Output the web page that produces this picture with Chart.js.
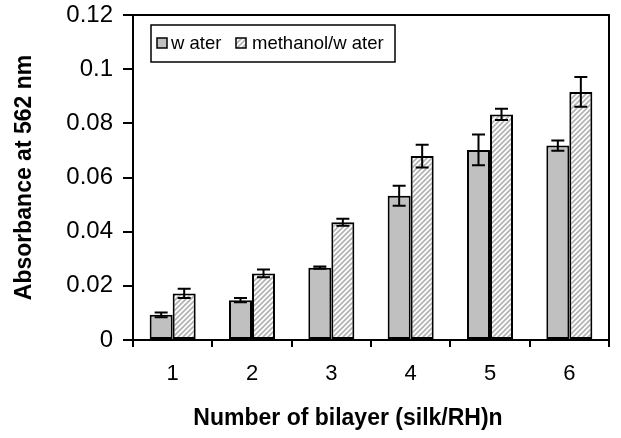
<!DOCTYPE html>
<html>
<head>
<meta charset="utf-8">
<script src="https://cdn.jsdelivr.net/npm/chart.js@4/dist/chart.umd.min.js"></script>
<style>
html,body{margin:0;padding:0;background:#fff;}
#wrap{width:621px;height:438px;}
</style>
</head>
<body>
<div id="wrap"><canvas id="c" width="621" height="438"></canvas></div>
<script>
const categories = ['1', '2', '3', '4', '5', '6'];
const seriesNames = ['w ater', 'methanol/w ater'];
const waterValues = [0.0093, 0.0147, 0.0267, 0.0533, 0.0702, 0.0718];
const waterErrors = [0.0009, 0.0008, 0.0004, 0.0037, 0.0057, 0.0019];
const methanolValues = [0.0172, 0.0246, 0.0435, 0.0679, 0.0833, 0.0916];
const methanolErrors = [0.0017, 0.0014, 0.0013, 0.0042, 0.0021, 0.0055];
const yTickLabels = ['0', '0.02', '0.04', '0.06', '0.08', '0.1', '0.12'];
const xTitle = 'Number of bilayer (silk/RH)n';
const yTitle = 'Absorbance at 562 nm';

function makeHatch() {
  const t = document.createElement('canvas');
  t.width = 5; t.height = 5;
  const g = t.getContext('2d');
  g.fillStyle = '#ffffff';
  g.fillRect(0, 0, 5, 5);
  g.strokeStyle = '#b4b4b4';
  g.lineWidth = 1.8;
  g.beginPath();
  g.moveTo(-1, 6); g.lineTo(6, -1);
  g.moveTo(-1, 1); g.lineTo(1, -1);
  g.moveTo(4, 6); g.lineTo(6, 4);
  g.stroke();
  return document.getElementById('c').getContext('2d').createPattern(t, 'repeat');
}
const hatch = makeHatch();
const waterFill = '#c0c0c0';
const FONT = '"Liberation Sans", Arial, sans-serif';

const errorBars = {
  id: 'errorBars',
  afterDatasetsDraw(chart) {
    const ctx = chart.ctx;
    const y = chart.scales.y;
    const errs = [waterErrors, methanolErrors];
    ctx.save();
    ctx.strokeStyle = '#000';
    ctx.lineWidth = 2;
    chart.data.datasets.forEach((ds, di) => {
      const meta = chart.getDatasetMeta(di);
      meta.data.forEach((bar, i) => {
        const v = ds.data[i], e = errs[di][i];
        const yt = y.getPixelForValue(v + e);
        const yb = y.getPixelForValue(v - e);
        const x = bar.x;
        ctx.beginPath();
        ctx.moveTo(x, yt); ctx.lineTo(x, yb);
        ctx.moveTo(x - 6.5, yt); ctx.lineTo(x + 6.5, yt);
        ctx.moveTo(x - 6.5, yb); ctx.lineTo(x + 6.5, yb);
        ctx.stroke();
      });
    });
    ctx.restore();
  }
};

const frameAndLegend = {
  id: 'frameAndLegend',
  afterDraw(chart) {
    const ctx = chart.ctx;
    const a = chart.chartArea;
    ctx.save();
    ctx.strokeStyle = '#000';
    ctx.lineWidth = 2;
    ctx.beginPath();
    ctx.moveTo(a.left, a.top);
    ctx.lineTo(a.right, a.top);
    ctx.lineTo(a.right, a.bottom);
    ctx.stroke();
    // x axis title
    ctx.fillStyle = '#000';
    ctx.font = 'bold 23px ' + FONT;
    ctx.textAlign = 'center';
    ctx.textBaseline = 'alphabetic';
    ctx.fillText(xTitle, 348, 425);
    // legend
    const lx = 151, ly = 25, lw = 244, lh = 37;
    ctx.fillStyle = '#fff';
    ctx.fillRect(lx, ly, lw, lh);
    ctx.lineWidth = 1.5;
    ctx.strokeRect(lx, ly, lw, lh);
    const items = [
      {sx: 157, tx: 171, fill: waterFill},
      {sx: 236, tx: 252, fill: hatch}
    ];
    ctx.font = '18.5px ' + FONT;
    ctx.textBaseline = 'middle';
    ctx.textAlign = 'left';
    items.forEach((it, i) => {
      ctx.fillStyle = it.fill;
      ctx.fillRect(it.sx, 38, 10, 10);
      ctx.lineWidth = 1.5;
      ctx.strokeStyle = '#000';
      ctx.strokeRect(it.sx, 38, 10, 10);
      ctx.fillStyle = '#000';
      ctx.fillText(chart.data.datasets[i].label, it.tx, 44);
    });
    ctx.restore();
  }
};

new Chart(document.getElementById('c'), {
  type: 'bar',
  data: {
    labels: categories,
    datasets: [
      {label: seriesNames[0], data: waterValues, backgroundColor: waterFill,
       borderColor: '#000', borderWidth: 2, borderSkipped: false},
      {label: seriesNames[1], data: methanolValues, backgroundColor: hatch,
       borderColor: '#000', borderWidth: 2, borderSkipped: false}
    ]
  },
  options: {
    responsive: false,
    animation: false,
    devicePixelRatio: 1,
    layout: {padding: {top: 15, right: 12, left: 0, bottom: 0}},
    datasets: {bar: {categoryPercentage: 0.58, barPercentage: 1.0}},
    plugins: {legend: {display: false}, tooltip: {enabled: false}},
    scales: {
      x: {
        offset: true,
        grid: {offset: true, drawOnChartArea: false, drawTicks: true, tickLength: 7,
               color: '#000', lineWidth: 2},
        border: {color: '#000', width: 2},
        ticks: {color: '#000', padding: 14, font: {family: FONT, size: 22}},
        title: {display: false, text: xTitle},
        afterFit(s) { s.height = 98; s.paddingLeft = 0; s.paddingRight = 0; }
      },
      y: {
        min: 0, max: 0.12,
        ticks: {stepSize: 0.02, color: '#000', padding: 10,
                font: {family: FONT, size: 24},
                callback: (v, i) => yTickLabels[i]},
        grid: {drawOnChartArea: false, drawTicks: true, tickLength: 10, color: '#000', lineWidth: 2},
        border: {color: '#000', width: 2},
        title: {display: true, text: yTitle, color: '#000',
                padding: {top: 11, bottom: 0},
                font: {family: FONT, size: 23, weight: 'bold'}},
        afterFit(s) { s.width = 133; s.paddingTop = 0; s.paddingBottom = 0; }
      }
    }
  },
  plugins: [errorBars, frameAndLegend]
});
</script>
</body>
</html>
